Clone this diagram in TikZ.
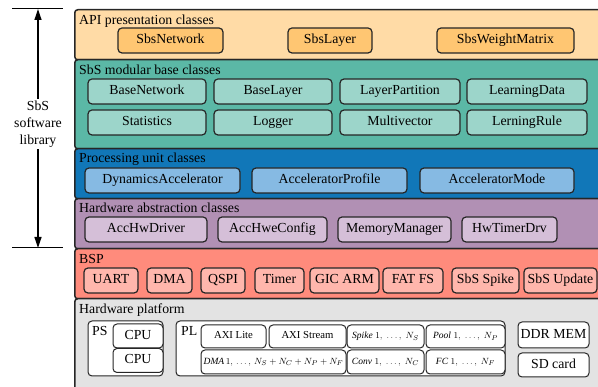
\documentclass[tikz,border=0pt]{standalone}
\usepackage{fontspec}
\setmainfont{Liberation Serif}
\usepackage{tikz}
\usetikzlibrary{arrows.meta, positioning}

\definecolor{apifill}{HTML}{FFDBA6}
\definecolor{apibox}{HTML}{FFC672}
\definecolor{sbsfill}{HTML}{5BB8A6}
\definecolor{sbsbox}{HTML}{9CD5CA}
\definecolor{procfill}{HTML}{1177B8}
\definecolor{procbox}{HTML}{86BAE3}
\definecolor{hwafill}{HTML}{B190B4}
\definecolor{hwabox}{HTML}{D5BFD8}
\definecolor{bspfill}{HTML}{FF8B7C}
\definecolor{bspbox}{HTML}{FFB6AC}
\definecolor{hwpfill}{HTML}{E3E3E3}
\definecolor{edge}{HTML}{262626}

\begin{document}
\begin{tikzpicture}[x=1pt, y=-1pt,
    every node/.style={font=\fontsize{13.8}{17}\selectfont},
    layer/.style={draw=edge, line width=1.5pt, rounded corners=3pt, anchor=north west, inner sep=0pt},
    title/.style={anchor=base west, inner sep=0pt},
    cls/.style={draw=edge, line width=1.2pt, rounded corners=4pt, inner sep=0pt, minimum height=25,
        text height=9.5pt, text depth=3pt},
    hw/.style={draw=edge, line width=1pt, rounded corners=4pt, fill=white, inner sep=0pt,
        text height=9.5pt, text depth=3pt},
    small/.style={font=\fontsize{10.7}{12}\selectfont, text height=7.5pt, text depth=2.5pt},
    tiny/.style={font=\fontsize{9.5}{11}\selectfont, text height=7pt, text depth=2.5pt}]
    \clip (0,0) rectangle (598,387);

    % layers
    \node[layer, fill=apifill, minimum width=540, minimum height=50] (api) at (74,9) {};
    \node[layer, fill=sbsfill, minimum width=540, minimum height=89] (sbs) at (74,59) {};
    \node[layer, fill=procfill, minimum width=540, minimum height=50] (proc) at (74,148) {};
    \node[layer, fill=hwafill, minimum width=540, minimum height=50] (hwa) at (74,198) {};
    \node[layer, fill=bspfill, minimum width=540, minimum height=50] (bsp) at (74,248) {};
    \node[layer, fill=hwpfill, minimum width=540, minimum height=100] (hwp) at (74,298) {};

    \node[title] (apit) at (79,24.5) {API presentation classes};
    \node[title] (sbst) at (79,74.5) {SbS modular base classes};
    \node[title] (proct) at (79,163) {Processing unit classes};
    \node[title] (hwat) at (79,213) {Hardware abstraction classes};
    \node[title] (bspt) at (79,263.5) {BSP};
    \node[title] (hwpt) at (79,313.5) {Hardware platform};

    % API
    \node[cls, fill=apibox, minimum width=105] (sbsnet) at (170.5,40.5) {SbsNetwork};
    \node[cls, fill=apibox, minimum width=84] (sbslay) at (330,40.5) {SbsLayer};
    \node[cls, fill=apibox, minimum width=137] (sbswm) at (505.5,40.5) {SbsWeightMatrix};

    % SbS base classes
    \node[cls, fill=sbsbox, minimum width=118] (basenet) at (147,91.5) {BaseNetwork};
    \node[cls, fill=sbsbox, minimum width=118] (baselay) at (273,91.5) {BaseLayer};
    \node[cls, fill=sbsbox, minimum width=120] (laypart) at (400,91.5) {LayerPartition};
    \node[cls, fill=sbsbox, minimum width=120] (ldata) at (527,91.5) {LearningData};
    \node[cls, fill=sbsbox, minimum width=118] (stats) at (147,122.5) {Statistics};
    \node[cls, fill=sbsbox, minimum width=118] (logger) at (273,122.5) {Logger};
    \node[cls, fill=sbsbox, minimum width=120] (mvec) at (400,122.5) {Multivector};
    \node[cls, fill=sbsbox, minimum width=120] (lrule) at (527,122.5) {LerningRule};

    % processing units
    \node[cls, fill=procbox, minimum width=155] (dynacc) at (162.5,180.5) {DynamicsAccelerator};
    \node[cls, fill=procbox, minimum width=155] (accprof) at (329.5,180.5) {AcceleratorProfile};
    \node[cls, fill=procbox, minimum width=154] (accmode) at (497,180.5) {AcceleratorMode};

    % hardware abstraction
    \node[cls, fill=hwabox, minimum width=122] (hwdrv) at (146,229.5) {AccHwDriver};
    \node[cls, fill=hwabox, minimum width=109] (hwcfg) at (272.5,229.5) {AccHweConfig};
    \node[cls, fill=hwabox, minimum width=113] (memman) at (394.5,229.5) {MemoryManager};
    \node[cls, fill=hwabox, minimum width=95] (timdrv) at (509.5,229.5) {HwTimerDrv};

    % BSP
    \node[cls, fill=bspbox, minimum width=54] (uart) at (111,280.5) {UART};
    \node[cls, fill=bspbox, minimum width=45] (dma) at (169.5,280.5) {DMA};
    \node[cls, fill=bspbox, minimum width=44] (qspi) at (223,280.5) {QSPI};
    \node[cls, fill=bspbox, minimum width=49] (timer) at (279.5,280.5) {Timer};
    \node[cls, fill=bspbox, minimum width=69] (gic) at (344.5,280.5) {GIC ARM};
    \node[cls, fill=bspbox, minimum width=60] (fatfs) at (413,280.5) {FAT FS};
    \node[cls, fill=bspbox, minimum width=67] (spike) at (485.5,280.5) {SbS Spike};
    \node[cls, fill=bspbox, minimum width=73] (update) at (560.5,280.5) {SbS Update};

    % hardware platform
    \node[hw, minimum width=75, minimum height=55] (ps) at (125.5,348.5) {};
    \node[anchor=base west, inner sep=0pt] (pst) at (92,336) {PS};
    \node[hw, minimum width=50, minimum height=24] (cpua) at (138,336) {CPU};
    \node[hw, minimum width=50, minimum height=24] (cpub) at (138,360.5) {CPU};

    \node[hw, minimum width=329, minimum height=55] (pl) at (340.5,348.5) {};
    \node[anchor=base west, inner sep=0pt] (plt) at (181,336) {PL};
    \node[hw, small, minimum width=65, minimum height=23] (axil) at (233.5,336.5) {AXI Lite};
    \node[hw, small, minimum width=77, minimum height=23] (axis) at (307.5,336.5) {AXI Stream};
    \node[hw, tiny, minimum width=145, minimum height=24] (dmas) at (273.5,362) {$\mathit{DMA}\,1,\,\ldots,\,N_S+N_C+N_P+N_F$};
    \node[hw, tiny, minimum width=77, minimum height=23] (spk) at (385.5,336.5) {$\mathit{Spike}\;1,\;\ldots,\;N_S$};
    \node[hw, tiny, minimum width=79, minimum height=23] (pool) at (465.5,336.5) {$\mathit{Pool}\;1,\;\ldots,\;N_P$};
    \node[hw, tiny, minimum width=77, minimum height=24] (conv) at (385.5,362) {$\mathit{Conv}\;1,\;\ldots,\;N_C$};
    \node[hw, tiny, minimum width=79, minimum height=24] (fc) at (465.5,362) {$\mathit{FC}\;1,\;\ldots,\;N_F$};

    \node[hw, minimum width=71, minimum height=26] (ddr) at (553.5,335) {DDR MEM};
    \node[hw, minimum width=71, minimum height=24] (sd) at (553.5,365) {SD card};

    % library span
    \coordinate (top) at (38,9);
    \coordinate (bot) at (38,248);
    \draw[line width=1pt] (12,9) -- (63,9);
    \draw[line width=1pt] (12,248) -- (63,248);
    \node[align=center, inner sep=2pt] (lib) at (38,124) {SbS\\software\\library};
    \draw[line width=1.2pt, -{Triangle[length=11pt,width=7pt]}] (lib) -- (top);
    \draw[line width=1.2pt, -{Triangle[length=11pt,width=7pt]}] (lib) -- (bot);
\end{tikzpicture}
\end{document}
